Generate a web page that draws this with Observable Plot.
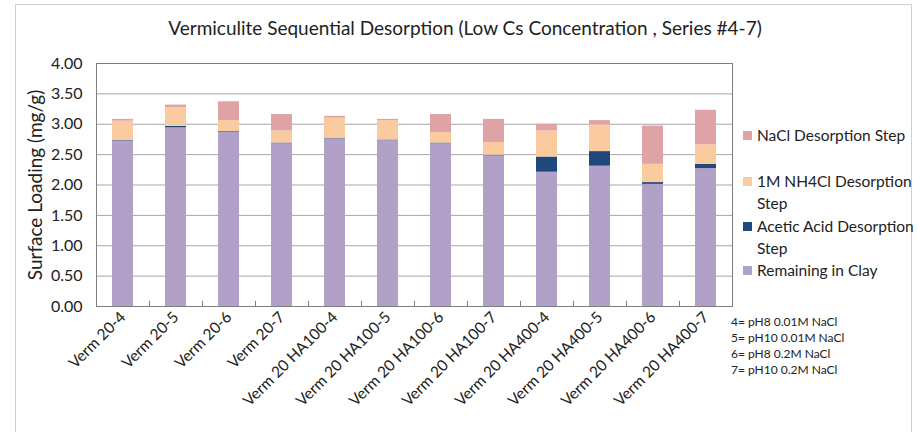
<!DOCTYPE html>
<html>
<head>
<meta charset="utf-8">
<script src="https://cdn.jsdelivr.net/npm/d3@7"></script>
<script src="https://cdn.jsdelivr.net/npm/@observablehq/plot@0.6"></script>
<style>
  html, body { margin: 0; padding: 0; background: #fff; }
  #wrap { position: relative; width: 917px; height: 432px; overflow: hidden; font-family: Lato, "Open Sans", sans-serif; color: #222; }
  #wrap svg { position: absolute; left: 0; top: 0; }
  .abs { position: absolute; white-space: nowrap; }
  .sw { position: absolute; width: 9px; height: 9px; }
  .lg { font-size: 15.5px; }
  .note { font-size: 12px; }
</style>
</head>
<body>
<div id="wrap"></div>
<script>
const categories = ["Verm 20-4","Verm 20-5","Verm 20-6","Verm 20-7","Verm 20 HA100-4","Verm 20 HA100-5","Verm 20 HA100-6","Verm 20 HA100-7","Verm 20 HA400-4","Verm 20 HA400-5","Verm 20 HA400-6","Verm 20 HA400-7"];
const seriesNames = ["Remaining in Clay","Acetic Acid Desorption Step","1M NH4Cl Desorption Step","NaCl Desorption Step"];
const remaining = [2.72, 2.94, 2.87, 2.68, 2.76, 2.73, 2.68, 2.48, 2.21, 2.31, 2.01, 2.27];
const aceticAcid = [0.01, 0.025, 0.01, 0.01, 0.01, 0.01, 0.01, 0.01, 0.25, 0.24, 0.03, 0.07];
const nh4cl = [0.32, 0.31, 0.18, 0.20, 0.33, 0.32, 0.17, 0.21, 0.43, 0.44, 0.30, 0.32];
const nacl = [0.03, 0.04, 0.31, 0.27, 0.03, 0.02, 0.30, 0.38, 0.11, 0.07, 0.63, 0.57];
const yTicks = [0, 0.5, 1, 1.5, 2, 2.5, 3, 3.5, 4];
const colors = ["#b1a0c7", "#1f497d", "#f9cb9f", "#dfa3a6"];
const notes = ["4= pH8 0.01M NaCl", "5= pH10 0.01M NaCl", "6= pH8 0.2M NaCl", "7= pH10 0.2M NaCl"];
const titleText = "Vermiculite Sequential Desorption (Low Cs Concentration , Series #4-7)";
const yLabel = "Surface Loading (mg/g)";

const seriesValues = [remaining, aceticAcid, nh4cl, nacl];
const rows = [];
seriesNames.forEach((s, si) => {
  categories.forEach((c, ci) => rows.push({cat: c, series: s, value: seriesValues[si][ci]}));
});

const chart = Plot.plot({
  width: 917,
  height: 432,
  marginLeft: 96,
  marginRight: 185,
  marginTop: 63,
  marginBottom: 126,
  style: {fontFamily: "Lato, 'Open Sans', sans-serif", color: "#222", background: "transparent"},
  x: {domain: categories, paddingInner: 0.61, paddingOuter: 0.305, label: null},
  y: {domain: [0, 4], label: null},
  color: {domain: seriesNames, range: colors},
  marks: [
    Plot.gridY(yTicks, {stroke: "#a6a6a6", strokeOpacity: 1}),
    Plot.barY(rows, {x: "cat", y: "value", fill: "series", order: seriesNames}),
    Plot.frame({stroke: "#7f7f7f"}),
    Plot.ruleX(categories, {x: d => d, dx: 26.5, y1: 0, y2: 0.085, stroke: "#7f7f7f"}),
    Plot.axisY(yTicks, {tickSize: 0, tickPadding: 14, tickFormat: d3.format(".2f"), fontSize: 16, label: null}),
    Plot.axisX({tickSize: 0, tickPadding: 8, tickRotate: -45, fontSize: 15.5, label: null}),
    Plot.text([yLabel], {frameAnchor: "left", textAnchor: "middle", dx: -61, rotate: -90, fontSize: 19, fill: "#222"})
  ]
});

const wrap = document.getElementById("wrap");
// outer chart border
const border = document.createElement("div");
border.className = "abs";
Object.assign(border.style, {left: "15px", top: "4px", width: "897px", height: "440px", border: "1px solid #d0d0d0", boxSizing: "border-box"});
wrap.appendChild(border);
wrap.appendChild(chart);

function addText(txt, left, cy, cls, extra) {
  const d = document.createElement("div");
  d.className = "abs " + cls;
  d.textContent = txt;
  Object.assign(d.style, {left: left + "px", top: cy + "px", transform: "translateY(-50%)"}, extra || {});
  wrap.appendChild(d);
  return d;
}

addText(titleText, 465, 27, "", {fontSize: "19px", transform: "translate(-50%,-50%)"});

// legend
const legendItems = [
  {lines: ["NaCl Desorption Step"], y: 135, c: colors[3]},
  {lines: ["1M NH4Cl Desorption", "Step"], y: 181, c: colors[2]},
  {lines: ["Acetic Acid Desorption", "Step"], y: 226, c: colors[1]},
  {lines: ["Remaining in Clay"], y: 270, c: colors[0]}
];
legendItems.forEach(it => {
  const sw = document.createElement("div");
  sw.className = "sw";
  Object.assign(sw.style, {left: "743px", top: (it.y - 4.5) + "px", background: it.c});
  wrap.appendChild(sw);
  it.lines.forEach((ln, i) => addText(ln, 757, it.y + i * 21.5, "lg"));
});

notes.forEach((n, i) => addText(n, 731, 321 + i * 16.1, "note"));
</script>
</body>
</html>
